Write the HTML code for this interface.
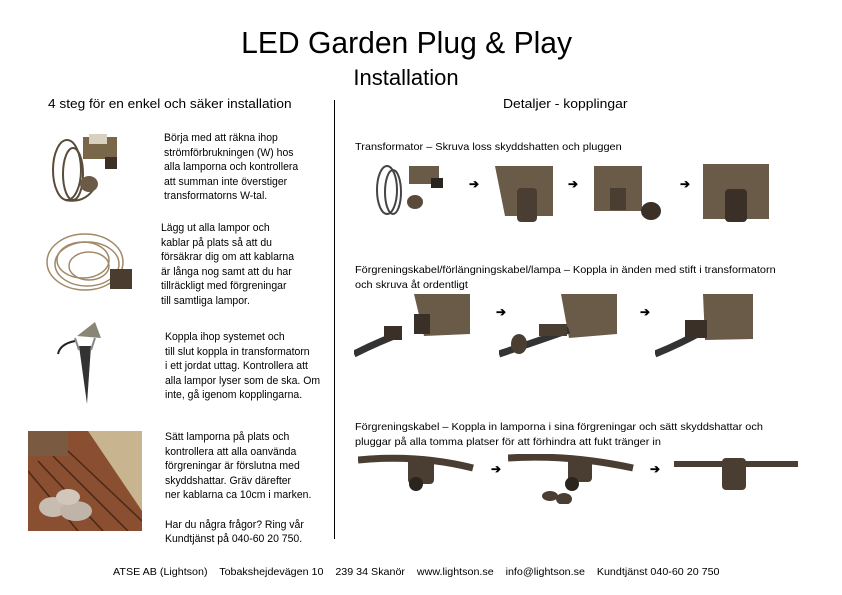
<!DOCTYPE html>
<html><head><meta charset="utf-8"><style>
html,body{margin:0;padding:0;background:#fff;}
#p{position:relative;width:842px;height:595px;overflow:hidden;font-family:"Liberation Sans",sans-serif;color:#000;}
.t{position:absolute;white-space:nowrap;transform-origin:0 0;}
.c{position:absolute;white-space:nowrap;left:0;width:842px;text-align:center;}
.blk{position:absolute;font-size:11px;line-height:14.6px;white-space:nowrap;transform-origin:0 0;transform:scaleX(0.95);}
.r{position:absolute;font-size:10.5px;line-height:15px;white-space:nowrap;transform-origin:0 0;transform:scaleX(1.04);}
.ar{position:absolute;font-size:12px;font-weight:bold;}
svg{position:absolute;}
</style></head><body><div id="p">
<div class="c" style="top:25px;font-size:31px;left:-14px;"><span style="display:inline-block;transform:scaleX(0.97);">LED Garden Plug &amp; Play</span></div>
<div class="c" style="top:65px;font-size:22px;left:-15px;"><span style="display:inline-block;">Installation</span></div>
<div class="t" style="left:48px;top:96px;font-size:13px;transform:scaleX(1.05);">4 steg för en enkel och säker installation</div>
<div class="t" style="left:503px;top:96px;font-size:13px;transform:scaleX(1.07);">Detaljer - kopplingar</div>
<div style="position:absolute;left:334px;top:100px;width:1px;height:439px;background:#000;"></div>

<!-- left images -->
<svg style="left:45px;top:132px" width="90" height="80"><g fill="none" stroke="#5a4c3a" stroke-width="2"><ellipse cx="22" cy="38" rx="14" ry="30"/><ellipse cx="28" cy="42" rx="10" ry="26"/><path d="M20 68 Q40 72 50 55"/></g><rect x="38" y="5" width="34" height="22" fill="#7a6648"/><rect x="44" y="2" width="18" height="10" fill="#d8d0c0"/><rect x="60" y="25" width="12" height="12" fill="#3a3026"/><ellipse cx="44" cy="52" rx="9" ry="8" fill="#6a5a46"/></svg>
<svg style="left:45px;top:224px" width="92" height="80"><g fill="none" stroke="#a08a68" stroke-width="1.5"><ellipse cx="40" cy="38" rx="38" ry="28"/><ellipse cx="42" cy="40" rx="32" ry="22"/><ellipse cx="38" cy="36" rx="26" ry="18"/><ellipse cx="44" cy="42" rx="20" ry="14"/></g><g fill="#4a3c2e"><rect x="65" y="45" width="22" height="20"/></g></svg>
<svg style="left:55px;top:316px" width="60" height="92"><path d="M20 25 Q5 28 3 38" stroke="#222" stroke-width="2" fill="none"/><path d="M22 20 L40 6 L46 22 Z" fill="#8a8676"/><path d="M24 30 L32 88 L36 30 Z" fill="#333"/><path d="M20 22 L24 34 M40 22 L36 34" stroke="#888" stroke-width="2"/></svg>
<svg style="left:28px;top:431px" width="114" height="100"><rect width="114" height="100" fill="#8a4e30"/><path d="M60 0 L114 0 L114 80 Z" fill="#c8b48e"/><rect x="0" y="0" width="40" height="25" fill="#7a5a40"/><g stroke="#4a2818" stroke-width="1.5"><path d="M0 40 L50 100 M10 30 L75 100 M25 25 L100 100 M40 20 L114 90"/></g><ellipse cx="25" cy="76" rx="14" ry="10" fill="#c8bcb0"/><ellipse cx="48" cy="80" rx="16" ry="10" fill="#c0b4a8"/><ellipse cx="40" cy="66" rx="12" ry="8" fill="#d0c6ba"/></svg>

<div class="blk" style="left:164px;top:131px;">Börja med att räkna ihop<br>strömförbrukningen (W) hos<br>alla lamporna och kontrollera<br>att summan inte överstiger<br>transformatorns W-tal.</div>
<div class="blk" style="left:161px;top:221px;">Lägg ut alla lampor och<br>kablar på plats så att du<br>försäkrar dig om att kablarna<br>är långa nog samt att du har<br>tillräckligt med förgreningar<br>till samtliga lampor.</div>
<div class="blk" style="left:165px;top:330px;">Koppla ihop systemet och<br>till slut koppla in transformatorn<br>i ett jordat uttag. Kontrollera att<br>alla lampor lyser som de ska. Om<br>inte, gå igenom kopplingarna.</div>
<div class="blk" style="left:165px;top:430px;">Sätt lamporna på plats och<br>kontrollera att alla oanvända<br>förgreningar är förslutna med<br>skyddshattar. Gräv därefter<br>ner kablarna ca 10cm i marken.<br><br>Har du några frågor? Ring vår<br>Kundtjänst på 040-60 20 750.</div>

<!-- right -->
<div class="r" style="left:355px;top:140px;">Transformator – Skruva loss skyddshatten och pluggen</div>
<svg style="left:373px;top:162px" width="82" height="62"><g fill="none" stroke="#444" stroke-width="2"><ellipse cx="14" cy="28" rx="10" ry="24"/><ellipse cx="20" cy="30" rx="8" ry="22"/></g><rect x="36" y="4" width="30" height="18" fill="#6a5a48"/><rect x="58" y="16" width="12" height="10" fill="#2a241e"/><ellipse cx="42" cy="40" rx="8" ry="7" fill="#5a4a3a"/></svg>
<div class="ar" style="left:469px;top:177px;">➔</div>
<svg style="left:485px;top:166px" width="68" height="58"><path d="M10 0 L68 0 L68 50 L20 50 Z" fill="#6a5a48"/><rect x="32" y="22" width="20" height="34" rx="4" fill="#4a3e32"/></svg>
<div class="ar" style="left:568px;top:177px;">➔</div>
<svg style="left:594px;top:166px" width="76" height="54"><path d="M0 0 L48 0 L48 45 L0 45 Z" fill="#6a5a48"/><rect x="16" y="22" width="16" height="22" fill="#4a3e32"/><ellipse cx="57" cy="45" rx="10" ry="9" fill="#3a3028"/></svg>
<div class="ar" style="left:680px;top:177px;">➔</div>
<svg style="left:703px;top:164px" width="66" height="60"><rect x="0" y="0" width="66" height="55" fill="#6a5a48"/><rect x="22" y="25" width="22" height="33" rx="4" fill="#3a3028"/></svg>

<div class="r" style="left:355px;top:263px;">Förgreningskabel/förlängningskabel/lampa – Koppla in änden med stift i transformatorn<br>och skruva åt ordentligt</div>
<svg style="left:354px;top:294px" width="116" height="68"><path d="M60 0 L116 0 L116 40 L70 42 Z" fill="#6a5a48"/><rect x="60" y="20" width="16" height="20" fill="#3a3028"/><path d="M0 60 Q20 50 40 42" stroke="#333" stroke-width="7" fill="none"/><rect x="30" y="32" width="18" height="14" fill="#3a3028"/></svg>
<div class="ar" style="left:496px;top:305px;">➔</div>
<svg style="left:499px;top:294px" width="118" height="68"><path d="M62 0 L118 0 L118 40 L70 44 Z" fill="#6a5a48"/><path d="M0 60 Q30 50 70 36" stroke="#333" stroke-width="7" fill="none"/><ellipse cx="20" cy="50" rx="8" ry="10" fill="#4a3e32"/><rect x="40" y="30" width="28" height="12" fill="#4a3e32"/></svg>
<div class="ar" style="left:640px;top:305px;">➔</div>
<svg style="left:655px;top:294px" width="98" height="68"><path d="M48 0 L98 0 L98 45 L50 46 Z" fill="#6a5a48"/><path d="M0 60 Q25 50 50 36" stroke="#333" stroke-width="7" fill="none"/><rect x="30" y="26" width="22" height="18" fill="#3a3028"/></svg>

<div class="r" style="left:355px;top:420px;">Förgreningskabel – Koppla in lamporna i sina förgreningar och sätt skyddshattar och<br>pluggar på alla tomma platser för att förhindra att fukt tränger in</div>
<svg style="left:358px;top:454px" width="120" height="40"><path d="M0 6 Q60 0 115 14" stroke="#4a3e32" stroke-width="7" fill="none"/><rect x="50" y="4" width="26" height="26" rx="4" fill="#4a3e32"/><circle cx="58" cy="30" r="7" fill="#2a241e"/></svg>
<div class="ar" style="left:491px;top:462px;">➔</div>
<svg style="left:508px;top:454px" width="126" height="50"><path d="M0 4 Q60 0 125 14" stroke="#4a3e32" stroke-width="7" fill="none"/><rect x="60" y="4" width="24" height="24" rx="4" fill="#4a3e32"/><circle cx="64" cy="30" r="7" fill="#2a241e"/><ellipse cx="42" cy="42" rx="8" ry="5" fill="#4a3e32"/><ellipse cx="56" cy="45" rx="8" ry="6" fill="#4a3e32"/></svg>
<div class="ar" style="left:650px;top:462px;">➔</div>
<svg style="left:674px;top:456px" width="124" height="38"><path d="M0 8 L124 8" stroke="#4a3e32" stroke-width="6" fill="none"/><rect x="48" y="2" width="24" height="32" rx="4" fill="#4a3e32"/></svg>

<div class="c" style="top:566px;font-size:10.5px;left:-5px;"><span style="display:inline-block;transform:scaleX(1.02);">ATSE AB (Lightson)&nbsp;&nbsp;&nbsp; Tobakshejdevägen 10&nbsp;&nbsp;&nbsp; 239 34 Skanör&nbsp;&nbsp;&nbsp; www.lightson.se&nbsp;&nbsp;&nbsp; info@lightson.se&nbsp;&nbsp;&nbsp; Kundtjänst 040-60 20 750</span></div>
</div></body></html>
